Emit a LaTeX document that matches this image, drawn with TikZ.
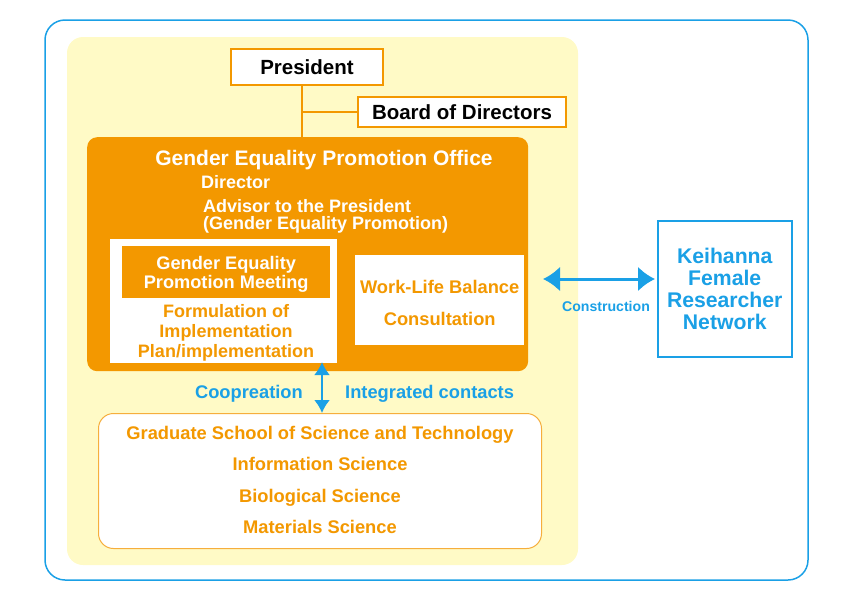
\documentclass[tikz,border=0pt]{standalone}
\usepackage{fontspec}
\setmainfont{Liberation Sans}
\usetikzlibrary{arrows.meta,positioning}
\definecolor{OfficeOrange}{HTML}{F39800}
\definecolor{LightOrange}{HTML}{F6AE3C}
\definecolor{PaleYellow}{HTML}{FFFAC6}
\definecolor{NetBlue}{HTML}{1AA0E6}

\begin{document}
\begin{tikzpicture}[x=1pt,y=-1pt,
  post/.style={draw=OfficeOrange,line width=2pt,fill=white,inner sep=0pt,font=\bfseries\fontsize{20.5}{22}\selectfont},
  wtxt/.style={text=white,inner sep=0pt,align=left,font=\bfseries\fontsize{18}{17}\selectfont},
  otxt/.style={text=OfficeOrange,inner sep=0pt,align=center,font=\bfseries\fontsize{18}{20}\selectfont},
  btxt/.style={text=NetBlue,inner sep=0pt,font=\bfseries\fontsize{18.3}{20}\selectfont},
  dbl/.style={NetBlue,line width=2.2pt,{Latex[length=13pt,width=16pt]}-{Latex[length=13pt,width=16pt]}}]
\useasboundingbox (0,0) rectangle (842,595);
\draw[NetBlue,line width=1.5pt,rounded corners=20pt] (45,20) rectangle (808,580);
\fill[PaleYellow,rounded corners=16pt] (67,37) rectangle (578,565);
% top of the chart
\node[post,minimum width=152pt,minimum height=36pt] (pres) at (307,67) {President};
\node[post,minimum width=208pt,minimum height=30pt] (board) at (462,112) {Board of Directors};
\node[fill=OfficeOrange,rounded corners=10pt,minimum width=441pt,minimum height=234pt,anchor=north west] (office) at (87,137) {};
\coordinate (junc) at (302,112);
\draw[OfficeOrange,line width=2pt] (pres.south -| junc) -- (office.north -| junc);
\draw[OfficeOrange,line width=2pt] (junc) -- (board.west);
\node[wtxt,font=\bfseries\fontsize{21}{22}\selectfont] (title) at (324,160.5) {Gender Equality Promotion Office};
\node[wtxt,anchor=west] (dir) at (201,182.5) {Director};
\node[wtxt,anchor=north west] (adv) at (203,199.5) {Advisor to the President\\(Gender Equality Promotion)};
% inner boxes
\node[fill=white,minimum width=227pt,minimum height=124pt,anchor=north west] (meetblk) at (110,239) {};
\node[fill=OfficeOrange,minimum width=208pt,minimum height=52pt,anchor=north west] (meet) at (122,246) {};
\node[wtxt,align=center,font=\bfseries\fontsize{18.2}{19}\selectfont] (meettxt) at ([yshift=-2.5pt]meet.center) {Gender Equality\\Promotion Meeting};
\node[otxt] (plan) at (226,333) {Formulation of\\Implementation\\Plan/implementation};
\node[fill=white,minimum width=169pt,minimum height=90pt,anchor=north west] (wlb) at (355,255) {};
\node[otxt,font=\bfseries\fontsize{18.3}{32}\selectfont] (wlbtxt) at ([yshift=-3pt]wlb.center) {Work-Life Balance\\Consultation};
% network
\node[draw=NetBlue,line width=1.5pt,fill=white,minimum width=134pt,minimum height=136pt,anchor=north west] (net) at (657,220) {};
\node[btxt,align=center,font=\bfseries\fontsize{21.2}{22}\selectfont] (nettxt) at ([yshift=-0.5pt]net.center) {Keihanna\\Female\\Researcher\\Network};
\coordinate (cl) at (543,279);
\coordinate (cr) at (655,279);
\draw[dbl,line width=3pt,{Latex[length=17pt,width=25pt]}-{Latex[length=17pt,width=25pt]}] (cl) -- (cr);
\node[btxt,font=\bfseries\fontsize{14.1}{16}\selectfont] (constr) at (606,306) {Construction};
% graduate school
\node[draw=LightOrange,line width=1pt,fill=white,rounded corners=15pt,minimum width=443pt,minimum height=135pt,anchor=north west] (grad) at (98,413) {};
\node[otxt,font=\bfseries\fontsize{18.3}{31.3}\selectfont] (gradtxt) at ([yshift=1pt]grad.center) {Graduate School of Science and Technology\\Information Science\\Biological Science\\Materials Science};
\coordinate (vt) at (322,362);
\draw[dbl] (vt) -- (vt |- grad.north);
\node[btxt,anchor=east] (coop) at (303,394) {Coopreation};
\node[btxt,anchor=west] (integ) at (345,394) {Integrated contacts};
\end{tikzpicture}
\end{document}
